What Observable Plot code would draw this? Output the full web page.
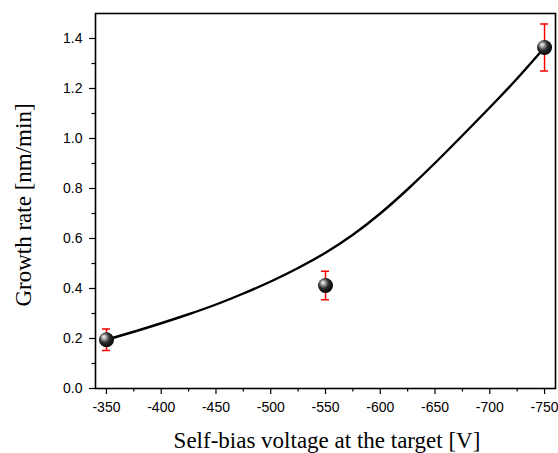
<!DOCTYPE html>
<html>
<head>
<meta charset="utf-8">
<script src="https://cdn.jsdelivr.net/npm/d3@7"></script>
<script src="https://cdn.jsdelivr.net/npm/@observablehq/plot@0.6"></script>
<style>
  html, body { margin: 0; padding: 0; background: #fff; }
  #chart { width: 558px; height: 453px; }
</style>
</head>
<body>
<div id="chart"></div>
<script>
// Measured points
const voltage = [-350, -550, -750];
const rate = [0.195, 0.412, 1.364];
const rateErr = [0.043, 0.057, 0.094];

// Fitted curve
const fitVoltage = [-350, -375, -400, -425, -450, -475, -500, -525, -550, -575, -600, -625, -650, -675, -700, -725, -750];
const fitRate = [0.195, 0.227, 0.261, 0.297, 0.336, 0.380, 0.428, 0.482, 0.543, 0.615, 0.700, 0.797, 0.902, 1.012, 1.124, 1.240, 1.364];

// Ticks
const xTicks = [-350, -400, -450, -500, -550, -600, -650, -700, -750];
const xMinor = [-375, -425, -475, -525, -575, -625, -675, -725];
const yTicks = [0, 0.2, 0.4, 0.6, 0.8, 1.0, 1.2, 1.4];
const yMinor = [0.1, 0.3, 0.5, 0.7, 0.9, 1.1, 1.3];

const points = voltage.map((v, i) => ({x: v, y: rate[i], lo: rate[i] - rateErr[i], hi: rate[i] + rateErr[i]}));
const fit = fitVoltage.map((v, i) => ({x: v, y: fitRate[i]}));

const plot = Plot.plot({
  width: 558,
  height: 453,
  marginLeft: 95,
  marginRight: 3,
  marginTop: 13,
  marginBottom: 65,
  style: {fontFamily: "'Liberation Sans', Arial, sans-serif", fontSize: "14px", color: "#000", background: "#fff"},
  x: {type: "linear", domain: [-340, -760]},
  y: {domain: [0, 1.5]},
  marks: [
    Plot.axisX({ticks: xTicks, tickSize: 6, tickPadding: 8, tickFormat: d => String(d), label: null, strokeWidth: 1.2, fontSize: 14}),
    Plot.axisX({ticks: xMinor, tickSize: 3.5, text: null, label: null, strokeWidth: 1.2}),
    Plot.axisY({ticks: yTicks, tickSize: 6, tickPadding: 7, tickFormat: d => d.toFixed(1), label: null, strokeWidth: 1.2, fontSize: 14}),
    Plot.axisY({ticks: yMinor, tickSize: 3.5, text: null, label: null, strokeWidth: 1.2}),
    Plot.frame({stroke: "#000", strokeWidth: 1.6}),
    Plot.line(fit, {x: "x", y: "y", curve: "natural", stroke: "#000", strokeWidth: 2.4}),
    Plot.ruleX(points, {x: "x", y1: "lo", y2: "hi", stroke: "#ff0000", strokeWidth: 1.5}),
    Plot.ruleY(points, {y: "lo", x1: "x", x2: "x", insetLeft: -4, insetRight: -4, stroke: "#ff0000", strokeWidth: 1.5}),
    Plot.ruleY(points, {y: "hi", x1: "x", x2: "x", insetLeft: -4, insetRight: -4, stroke: "#ff0000", strokeWidth: 1.5}),
    Plot.dot(points, {x: "x", y: "y", r: 7.5, fill: "url(#ball)", stroke: "none"})
  ]
});

// gradient for the sphere markers
const ns = "http://www.w3.org/2000/svg";
const defs = document.createElementNS(ns, "defs");
defs.innerHTML = `<radialGradient id="ball" cx="0.42" cy="0.4" r="0.6" fx="0.32" fy="0.3">
  <stop offset="0" stop-color="#ffffff"/>
  <stop offset="0.22" stop-color="#b0b0b0"/>
  <stop offset="0.55" stop-color="#303030"/>
  <stop offset="1" stop-color="#000000"/>
</radialGradient>`;
plot.insertBefore(defs, plot.firstChild);

// axis titles
const mkText = (txt, attrs) => {
  const t = document.createElementNS(ns, "text");
  t.textContent = txt;
  for (const k in attrs) t.setAttribute(k, attrs[k]);
  plot.appendChild(t);
};
mkText("Self-bias voltage at the target [V]", {
  x: 327, y: 448, "text-anchor": "middle",
  "font-family": "'Liberation Serif', 'Times New Roman', serif", "font-size": "23px", fill: "#000"
});
mkText("Growth rate [nm/min]", {
  transform: "translate(31,205) rotate(-90)", "text-anchor": "middle",
  "font-family": "'Liberation Serif', 'Times New Roman', serif", "font-size": "23px", fill: "#000"
});

document.getElementById("chart").appendChild(plot);
</script>
</body>
</html>
